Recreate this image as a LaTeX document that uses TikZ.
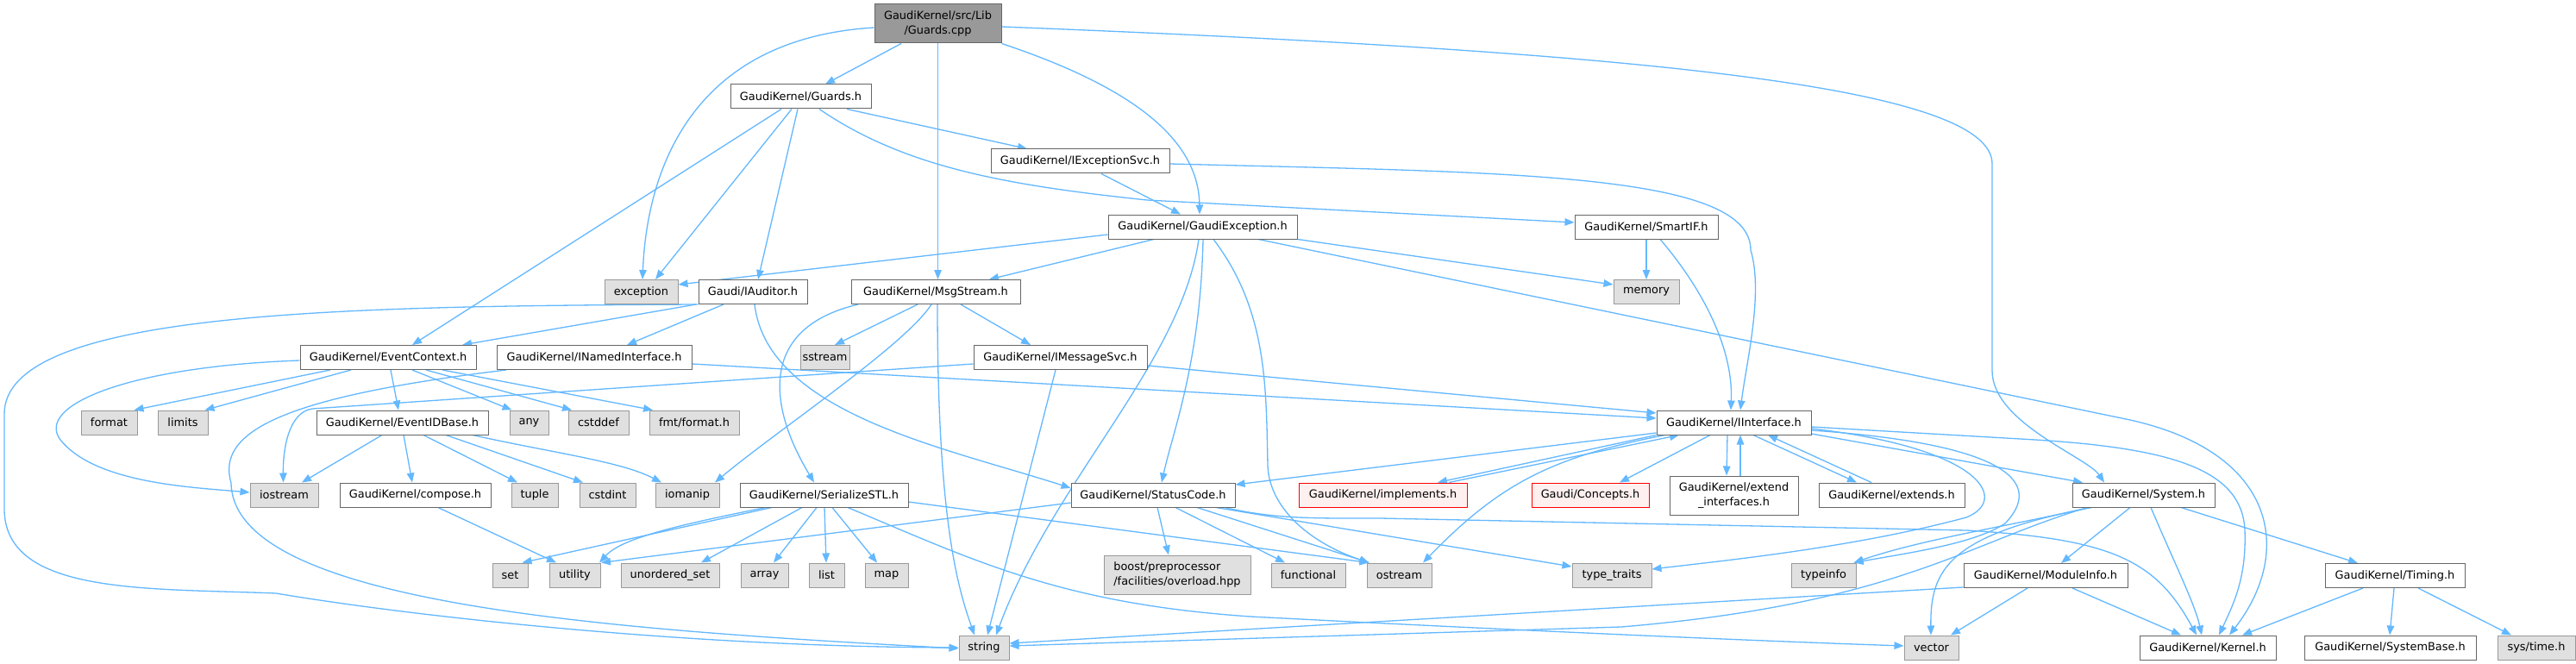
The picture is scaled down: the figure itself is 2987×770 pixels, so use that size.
\documentclass[tikz,border=0pt]{standalone}
\usepackage{fontspec}
\setmainfont{DejaVu Sans}
\usetikzlibrary{arrows.meta}
\pgfdeclarelayer{bg}
\pgfsetlayers{bg,main}
\definecolor{edgec}{HTML}{63B8FF}
\definecolor{bordw}{HTML}{666666}
\definecolor{fillg}{HTML}{E0E0E0}
\definecolor{bordg}{HTML}{999999}
\definecolor{rootf}{HTML}{999999}
\definecolor{redb}{HTML}{FF0000}
\definecolor{redf}{HTML}{FFF0F0}
\begin{document}
\begin{tikzpicture}[x=1pt,y=-1pt,
  nbox/.style={rectangle, inner sep=0pt, line width=1pt, font=\fontsize{12.9pt}{17.3pt}\selectfont, text=black, minimum height=28pt},
  wbox/.style={nbox, draw=bordw, fill=white},
  gbox/.style={nbox, draw=bordg, fill=fillg},
  rbox/.style={nbox, draw=redb, fill=redf},
  rootbox/.style={nbox, draw=bordw, fill=rootf},
  dep/.style={draw=edgec, line width=1.3pt, -{Triangle[length=11pt,width=8.5pt]}}]
\useasboundingbox (0,0) rectangle (2987,770);

% row 0-1
\node[rootbox, minimum width=147pt, minimum height=45pt, align=center] (root) at (1087.5,27.5) {GaudiKernel/src/Lib\\/Guards.cpp};
\node[wbox, minimum width=163pt] (guardsh) at (928.5,112) {GaudiKernel/Guards.h};
% row 2-3
\node[wbox, minimum width=207pt] (iexcsvc) at (1252.5,187) {GaudiKernel/IExceptionSvc.h};
\node[wbox, minimum width=219pt] (gexc) at (1394.5,263) {GaudiKernel/GaudiException.h};
\node[wbox, minimum width=166pt] (smartif) at (1909,263) {GaudiKernel/SmartIF.h};
% row 4
\node[gbox, minimum width=85pt] (exception) at (743.5,338.5) {exception};
\node[wbox, minimum width=126pt] (iauditor) at (873,338.5) {Gaudi/IAuditor.h};
\node[wbox, minimum width=196pt] (msgstream) at (1085,338.5) {GaudiKernel/MsgStream.h};
\node[gbox, minimum width=76pt] (memory) at (1909,338.5) {memory};
% row 5
\node[wbox, minimum width=204pt] (evctx) at (450,414.5) {GaudiKernel/EventContext.h};
\node[wbox, minimum width=226pt] (inamed) at (689,414.5) {GaudiKernel/INamedInterface.h};
\node[gbox, minimum width=57pt] (sstream) at (956.5,414.5) {sstream};
\node[wbox, minimum width=201pt] (imsgsvc) at (1229.5,414.5) {GaudiKernel/IMessageSvc.h};
% row 6
\node[gbox, minimum width=65pt] (format) at (126.5,490) {format};
\node[gbox, minimum width=58pt] (limits) at (212,490) {limits};
\node[wbox, minimum width=199pt] (evidbase) at (466.5,490) {GaudiKernel/EventIDBase.h};
\node[gbox, minimum width=45pt] (any) at (613.5,490) {any};
\node[gbox, minimum width=70pt] (cstddef) at (694,490) {cstddef};
\node[gbox, minimum width=104pt] (fmtformat) at (805,490) {fmt/format.h};
\node[wbox, minimum width=179pt] (iinterface) at (2010.5,490) {GaudiKernel/IInterface.h};
% row 7
\node[gbox, minimum width=79pt] (iostream) at (329.5,574) {iostream};
\node[wbox, minimum width=175pt] (compose) at (481.5,574) {GaudiKernel/compose.h};
\node[gbox, minimum width=54pt] (tuple) at (620,574) {tuple};
\node[gbox, minimum width=65pt] (cstdint) at (704.5,574) {cstdint};
\node[gbox, minimum width=74pt] (iomanip) at (797,574) {iomanip};
\node[wbox, minimum width=195pt] (serialize) at (955.5,574) {GaudiKernel/SerializeSTL.h};
\node[wbox, minimum width=190pt] (statuscode) at (1337,574) {GaudiKernel/StatusCode.h};
\node[rbox, minimum width=195pt] (implements) at (1603.5,574) {GaudiKernel/implements.h};
\node[rbox, minimum width=136pt] (concepts) at (1844,574) {Gaudi/Concepts.h};
\node[wbox, minimum width=149pt, minimum height=45pt, align=center] (extendif) at (2010.5,574.5) {GaudiKernel/extend\\\_interfaces.h};
\node[wbox, minimum width=169pt] (extends) at (2193.5,574) {GaudiKernel/extends.h};
\node[wbox, minimum width=165pt] (system) at (2485.5,574) {GaudiKernel/System.h};
% row 8
\node[gbox, minimum width=41pt] (set) at (591.5,667) {set};
\node[gbox, minimum width=59pt] (utility) at (666.5,667) {utility};
\node[gbox, minimum width=114pt] (unordset) at (777,667) {unordered\_set};
\node[gbox, minimum width=55pt] (array) at (886.5,667) {array};
\node[gbox, minimum width=41pt] (list) at (958.5,667) {list};
\node[gbox, minimum width=50pt] (map) at (1028,667) {map};
\node[gbox, minimum width=170pt, minimum height=45pt, align=left] (boost) at (1365,666.5) {boost/preprocessor\\/facilities/overload.hpp};
\node[gbox, minimum width=86pt] (functional) at (1517,667) {functional};
\node[gbox, minimum width=75pt] (ostream) at (1622.5,667) {ostream};
\node[gbox, minimum width=92pt] (typetraits) at (1869,667) {type\_traits};
\node[gbox, minimum width=75pt] (typeinfo) at (2114.5,667) {typeinfo};
\node[wbox, minimum width=190pt] (moduleinfo) at (2372,667.5) {GaudiKernel/ModuleInfo.h};
\node[wbox, minimum width=162pt] (timing) at (2777,667.5) {GaudiKernel/Timing.h};
% row 9
\node[gbox, minimum width=58pt] (string) at (1141,751) {string};
\node[gbox, minimum width=63pt] (vector) at (2239.5,751) {vector};
\node[wbox, minimum width=158pt] (kernel) at (2560,751) {GaudiKernel/Kernel.h};
\node[wbox, minimum width=199pt] (systembase) at (2771.5,751) {GaudiKernel/SystemBase.h};
\node[gbox, minimum width=90pt] (systime) at (2941,751) {sys/time.h};

\begin{pgfonlayer}{bg}
\fill[white] (0,0) rectangle (2987,770);
% root
\draw[dep] ([xshift=-42.5pt]root.south) -- ([xshift=28.5pt]guardsh.north);
\draw[dep] ([yshift=-4.5pt]root.west) .. controls (800,45) and (750,200) .. ([xshift=1.5pt]exception.north);
\draw[dep] (root.south) -- ([xshift=2.5pt]msgstream.north);
\draw[dep] (root.south east) .. controls (1310,100) and (1390,160) .. ([xshift=-3.5pt]gexc.north);
\draw[dep] ([yshift=-3.5pt]root.east) .. controls (1900,60) and (2310,100) .. (2310,190) -- (2310,430) .. controls (2310,490) and (2420,530) .. ([xshift=-45.5pt]system.north);
% Guards.h
\draw[dep] ([xshift=-22.5pt]guardsh.south) -- ([xshift=28pt]evctx.north);
\draw[dep] ([xshift=-10.5pt]guardsh.south) -- ([xshift=16.5pt]exception.north);
\draw[dep] ([xshift=-3.5pt]guardsh.south) -- ([xshift=6pt]iauditor.north);
\draw[dep] ([xshift=53.5pt]guardsh.south) -- ([xshift=-61.5pt]iexcsvc.north);
\draw[dep] ([xshift=21.5pt]guardsh.south) .. controls (1050,195) and (1170,215) .. (1330,232) -- ([yshift=5pt]smartif.west);
% IExceptionSvc
\draw[dep] ([xshift=24.5pt]iexcsvc.south) -- ([xshift=-25.5pt]gexc.north);
\draw[dep] ([yshift=-3pt]iexcsvc.east) .. controls (1750,200) and (2030,200) .. (2030,290) .. controls (2045,340) and (2025,420) .. ([xshift=7.5pt]iinterface.north);
% GaudiException
\draw[dep] ([yshift=-9pt]gexc.west) -- ([yshift=8.5pt]exception.east);
\draw[dep] ([xshift=-56.5pt]gexc.south) -- ([xshift=62pt]msgstream.north);
\draw[dep] (gexc.south east) -- ([yshift=-6pt]memory.north west);
\draw[dep] ([xshift=-4.5pt]gexc.south) .. controls (1370,420) and (1220,560) .. ([xshift=14pt]string.north);
\draw[dep] ([xshift=0.5pt]gexc.south) .. controls (1392,420) and (1360,500) .. ([xshift=10pt]statuscode.north);
\draw[dep] ([xshift=12.5pt]gexc.south) .. controls (1470,360) and (1468,450) .. (1470,540) .. controls (1472,590) and (1520,630) .. ([xshift=3pt]ostream.north west);
\draw[dep] ([xshift=64.5pt]gexc.south) -- (2470,487) .. controls (2640,525) and (2660,640) .. ([xshift=25pt]kernel.north);
% SmartIF
\draw[dep] (smartif.south) -- (memory.north);
\draw[dep] ([xshift=16pt]smartif.south) .. controls (1970,330) and (2010,400) .. ([xshift=-3.5pt]iinterface.north);
% IAuditor
\draw[dep] (iauditor.south west) .. controls (400,355) and (5,360) .. (5,480) -- (5,590) .. controls (5,690) and (170,682) .. (320,688) .. controls (480,715) and (800,750) .. (string.west);
\draw[dep] ([xshift=-66pt]iauditor.south) -- ([xshift=86pt]evctx.north);
\draw[dep] ([xshift=-34pt]iauditor.south) -- ([xshift=38pt]inamed.north);
\draw[dep] ([xshift=2pt]iauditor.south) .. controls (890,480) and (1100,520) .. ([yshift=8pt]statuscode.west);
% MsgStream
\draw[dep] ([xshift=-21pt]msgstream.south) -- ([xshift=11.5pt]sstream.north);
\draw[dep] ([xshift=29pt]msgstream.south) -- ([xshift=-34.5pt]imsgsvc.north);
\draw[dep] ([xshift=-90pt]msgstream.south) .. controls (880,380) and (890,470) .. ([xshift=-11.5pt]serialize.north);
\draw[dep] ([xshift=-5pt]msgstream.south) .. controls (1050,400) and (900,500) .. ([xshift=32pt]iomanip.north);
\draw[dep] ([xshift=2pt]msgstream.south) .. controls (1087,600) and (1110,680) .. ([xshift=-11pt]string.north);
% EventContext
\draw[dep] ([xshift=-67pt]evctx.south) -- ([xshift=-4pt]format.north east);
\draw[dep] ([xshift=-43pt]evctx.south) -- ([xshift=-4pt]limits.north east);
\draw[dep] ([yshift=-3.5pt]evctx.west) .. controls (150,425) and (40,470) .. (70,510) .. controls (110,560) and (220,565) .. ([yshift=3pt]iostream.west);
\draw[dep] ([xshift=3pt]evctx.south) -- ([xshift=-4.5pt]evidbase.north);
\draw[dep] ([xshift=28pt]evctx.south) -- ([xshift=-20pt]any.north);
\draw[dep] ([xshift=44pt]evctx.south) -- ([xshift=-31pt]cstddef.north);
\draw[dep] ([xshift=63pt]evctx.south) -- ([xshift=-48pt]fmtformat.north);
% INamedInterface
\draw[dep] ([yshift=-7.5pt]inamed.east) -- ([yshift=5pt]iinterface.west);
\draw[dep] ([xshift=-102pt]inamed.south) .. controls (330,460) and (250,500) .. (268,560) .. controls (270,700) and (700,730) .. ([yshift=-1pt]string.west);
% IMessageSvc
\draw[dep] ([yshift=-9.5pt]imsgsvc.east) -- ([yshift=11pt]iinterface.west);
\draw[dep] ([yshift=-7.5pt]imsgsvc.west) -- (362,474) .. controls (335,478) and (328,520) .. ([xshift=-1pt]iostream.north);
\draw[dep] ([xshift=-5.5pt]imsgsvc.south) -- ([xshift=4pt]string.north);
% EventIDBase
\draw[dep] ([xshift=-23.5pt]evidbase.south) -- ([xshift=20.5pt]iostream.north);
\draw[dep] ([xshift=1.5pt]evidbase.south) -- ([xshift=-3.5pt]compose.north);
\draw[dep] ([xshift=24.5pt]evidbase.south) -- ([xshift=-20pt]tuple.north);
\draw[dep] ([xshift=50.5pt]evidbase.south) -- ([xshift=-28.5pt]cstdint.north);
\draw[dep] ([xshift=81.5pt]evidbase.south) .. controls (640,525) and (720,535) .. ([xshift=-30pt]iomanip.north);
% compose
\draw[dep] ([xshift=26.5pt]compose.south) -- ([xshift=-21.5pt]utility.north);
% SerializeSTL
\draw[dep] ([xshift=-60.5pt]serialize.south) -- ([xshift=14pt]set.north);
\draw[dep] ([xshift=-67.5pt]serialize.south) .. controls (780,610) and (720,625) .. ([xshift=28.5pt]utility.north);
\draw[dep] ([xshift=-25.5pt]serialize.south) -- ([xshift=36pt]unordset.north);
\draw[dep] ([xshift=-8.5pt]serialize.south) -- ([xshift=10.5pt]array.north);
\draw[dep] ([xshift=0.5pt]serialize.south) -- ([xshift=-0.5pt]list.north);
\draw[dep] ([xshift=9.5pt]serialize.south) -- ([xshift=-11pt]map.north);
\draw[dep] ([yshift=-8pt]serialize.east) -- ([xshift=3pt]ostream.north west);
\draw[dep] ([xshift=27.5pt]serialize.south) .. controls (1130,650) and (1230,700) .. (1450,715) .. controls (1700,728) and (2000,742) .. ([yshift=2pt]vector.west);
% StatusCode
\draw[dep] ([yshift=-9pt]statuscode.west) -- ([xshift=30.5pt]utility.north);
\draw[dep] ([xshift=5pt]statuscode.south) -- ([xshift=-10pt]boost.north);
\draw[dep] ([xshift=26pt]statuscode.south) -- ([xshift=-27pt]functional.north);
\draw[dep] ([xshift=51pt]statuscode.south) -- ([xshift=3pt]ostream.north west);
\draw[dep] ([xshift=73pt]statuscode.south) -- ([yshift=10pt]typetraits.west);
\draw[dep] ([xshift=83pt]statuscode.south) .. controls (1480,602) and (1520,601) .. (1600,601) -- (2280,615) .. controls (2450,625) and (2500,650) .. ([xshift=-13pt]kernel.north);
% IInterface
\draw[dep] ([yshift=-12pt]iinterface.west) -- ([yshift=12pt]statuscode.east);
\draw[dep] (iinterface.south west) -- ([xshift=63.5pt]implements.north);
\draw[dep] ([xshift=76.5pt]implements.north) -- ([xshift=-63.5pt]iinterface.south);
\draw[dep] ([xshift=-27.5pt]iinterface.south) -- ([xshift=34pt]concepts.north);
\draw[dep] ([xshift=-7.5pt]iinterface.south) -- ([xshift=-8.5pt]extendif.north);
\draw[dep] ([xshift=7.5pt]extendif.north) -- ([xshift=7.5pt]iinterface.south);
\draw[dep] ([xshift=22.5pt]iinterface.south) -- ([xshift=-40.5pt]extends.north);
\draw[dep] ([xshift=-23.5pt]extends.north) -- ([xshift=39.5pt]iinterface.south);
\draw[dep] ([yshift=-13pt]iinterface.east) -- ([xshift=-70.5pt]system.north);
\draw[dep] ([yshift=-5pt]iinterface.east) -- (2360,510) .. controls (2520,520) and (2600,545) .. (2603,615) .. controls (2605,670) and (2590,700) .. ([xshift=13pt]kernel.north);
\draw[dep] ([xshift=10pt]iinterface.south west) .. controls (1800,530) and (1740,560) .. ([xshift=27.5pt]ostream.north);
\draw[dep] ([yshift=-7pt]iinterface.east) .. controls (2300,520) and (2330,580) .. (2280,600) .. controls (2150,635) and (2000,650) .. ([yshift=7pt]typetraits.east);
\draw[dep] ([yshift=-9pt]iinterface.east) .. controls (2330,515) and (2370,560) .. (2325,607) .. controls (2290,630) and (2220,640) .. ([xshift=-3pt]typeinfo.north east);
% System.h
\draw[dep] ([xshift=-62.5pt]system.south) .. controls (2330,610) and (2230,625) .. ([xshift=-3pt]typeinfo.north east);
\draw[dep] ([xshift=-60pt]system.south) .. controls (2260,620) and (2238,660) .. ([xshift=-0.5pt]vector.north);
\draw[dep] ([xshift=-65pt]system.south) .. controls (2280,630) and (2200,700) .. (1880,727) -- ([yshift=2pt]string.east);
\draw[dep] ([xshift=-15.5pt]system.south) -- ([xshift=18pt]moduleinfo.north);
\draw[dep] ([xshift=8.5pt]system.south) .. controls (2520,650) and (2545,700) .. ([xshift=-7pt]kernel.north);
\draw[dep] ([xshift=43.5pt]system.south) -- ([xshift=-43pt]timing.north);
% ModuleInfo
\draw[dep] ([yshift=-13.5pt]moduleinfo.west) -- ([yshift=5pt]string.east);
\draw[dep] ([xshift=-21pt]moduleinfo.south) -- ([xshift=22.5pt]vector.north);
\draw[dep] ([xshift=31pt]moduleinfo.south) -- ([xshift=-31pt]kernel.north);
% Timing
\draw[dep] ([xshift=-37pt]timing.south) -- ([xshift=40pt]kernel.north);
\draw[dep] ([xshift=-1pt]timing.south) -- ([xshift=-0.5pt]systembase.north);
\draw[dep] ([xshift=27pt]timing.south) -- ([xshift=-29pt]systime.north);
\end{pgfonlayer}
\end{tikzpicture}
\end{document}
